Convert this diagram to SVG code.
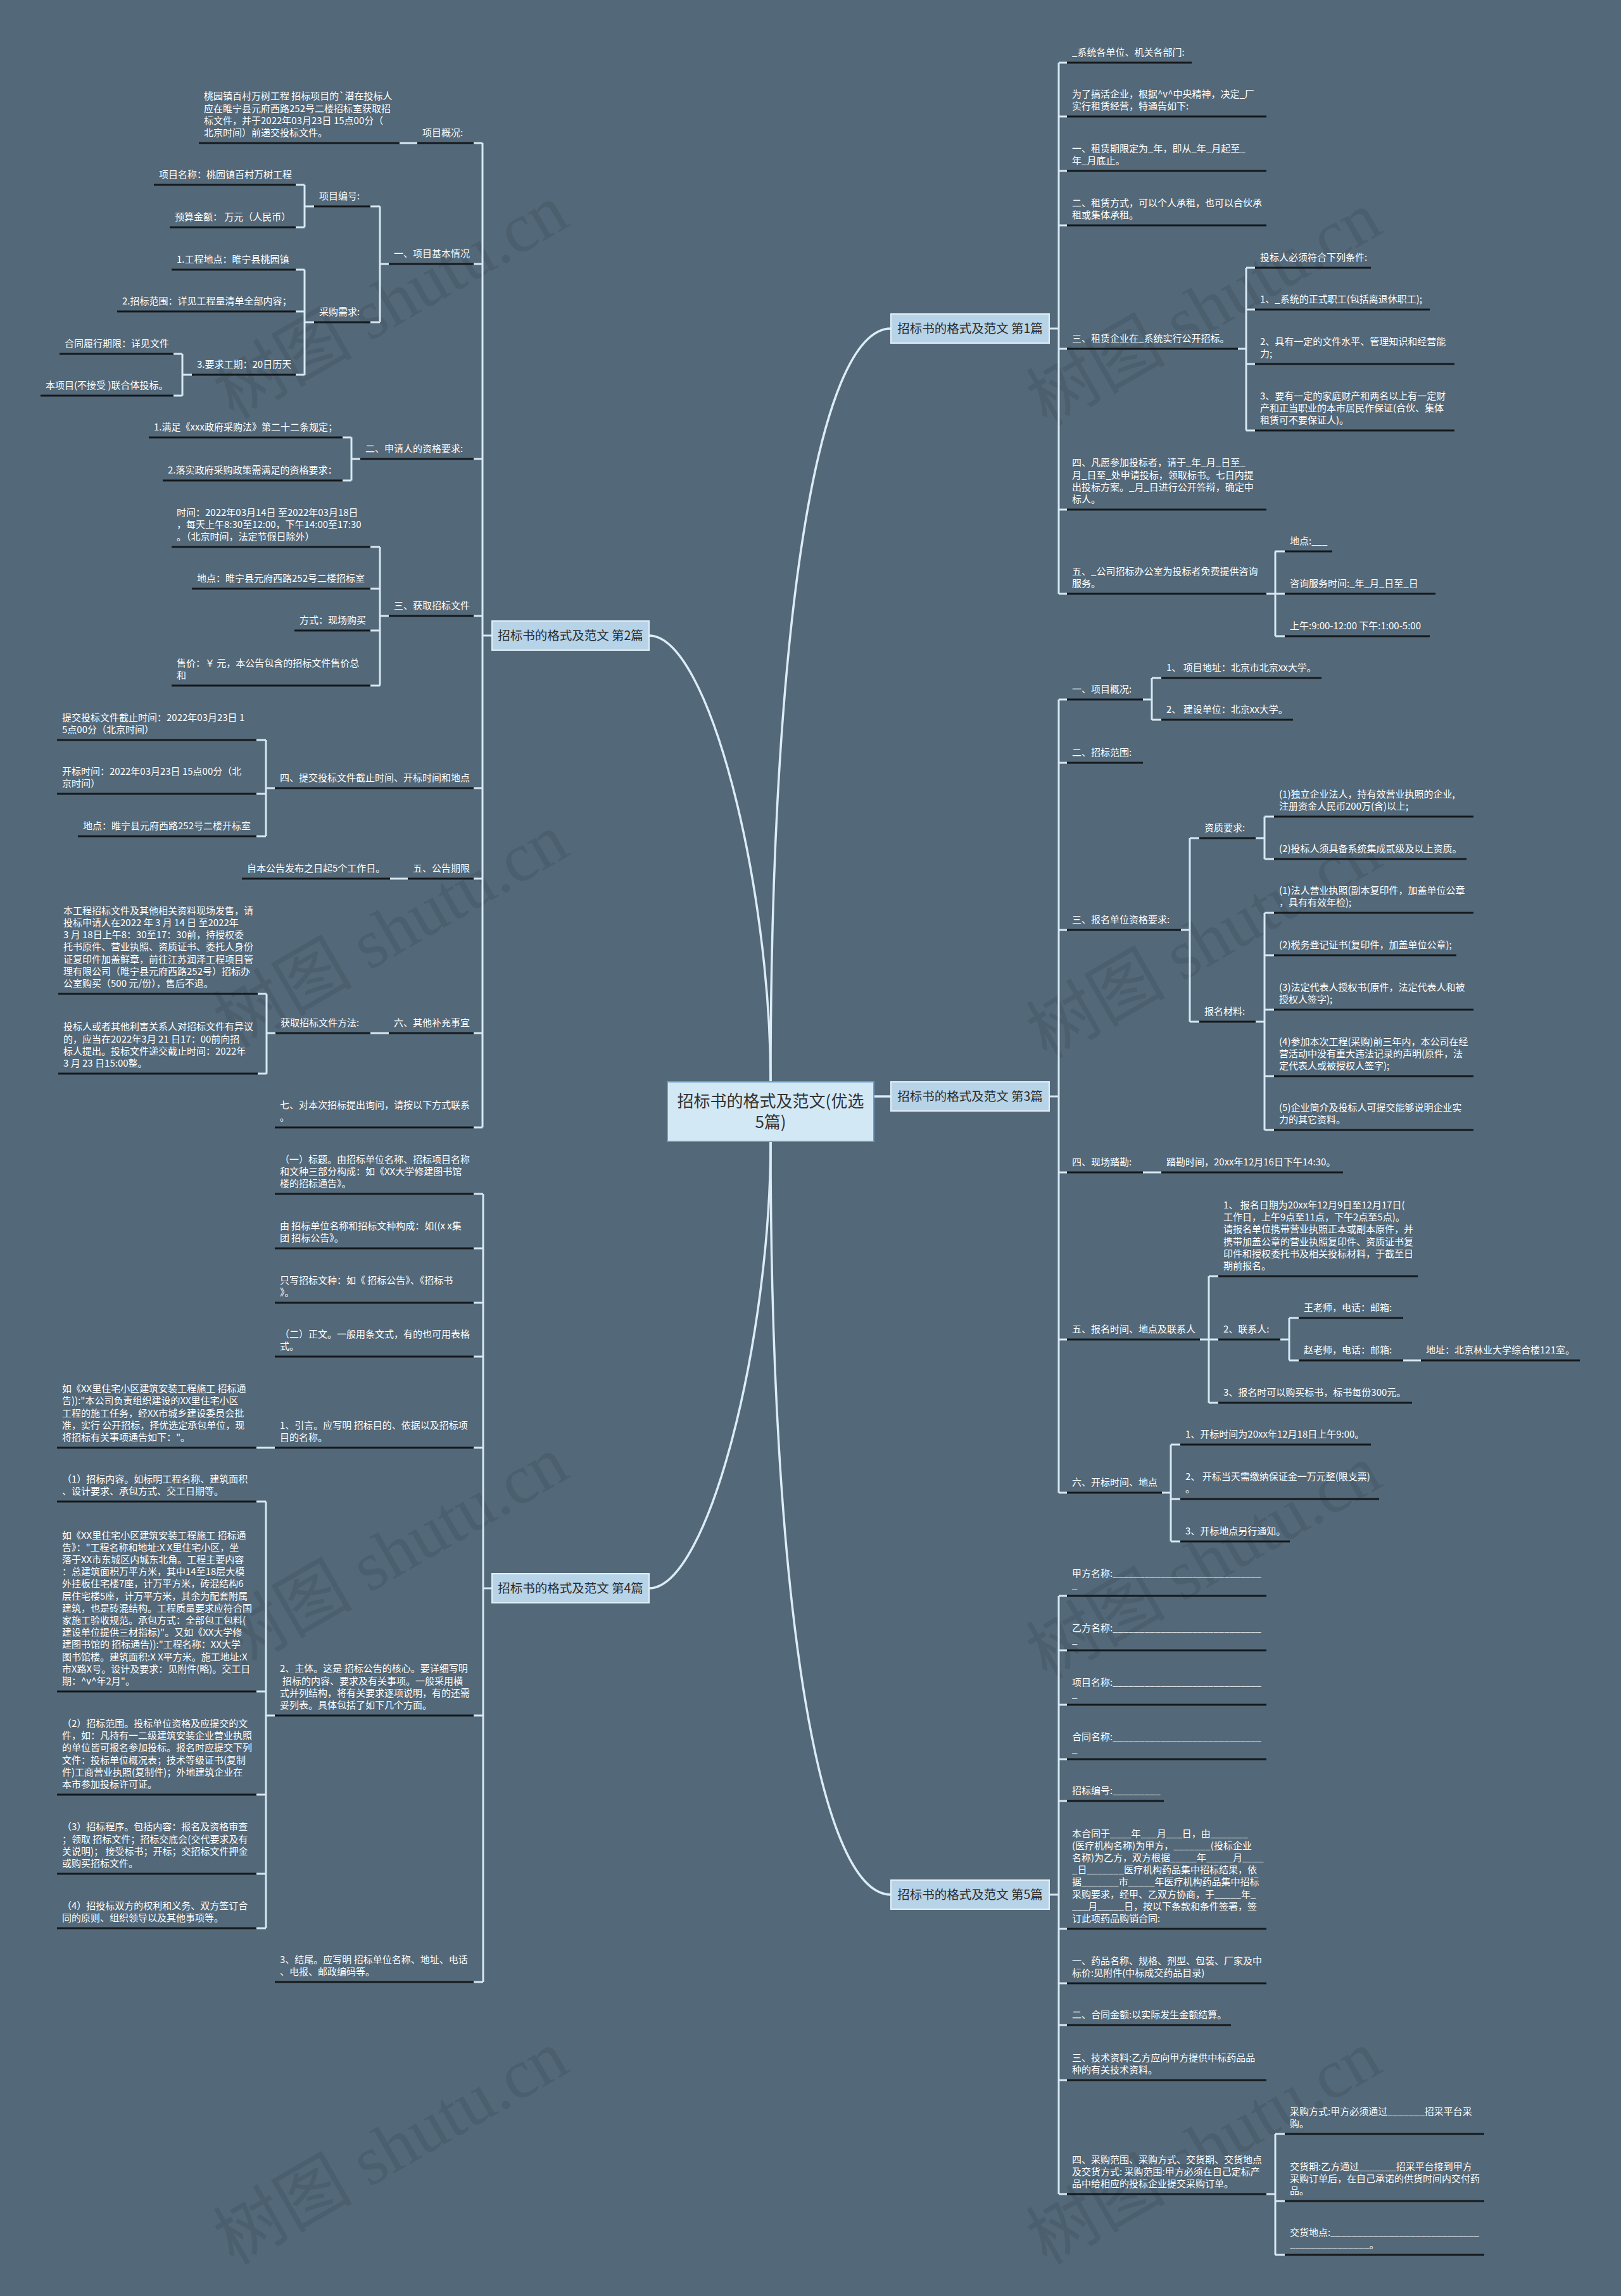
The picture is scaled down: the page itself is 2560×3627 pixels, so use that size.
<svg xmlns="http://www.w3.org/2000/svg" width="2560" height="3627" viewBox="0 0 2560 3627">
<style>
.t{font-family:"Noto Sans CJK SC","Noto Sans",sans-serif;font-size:15px;fill:#ffffff}
.ul{stroke:#15191c;stroke-width:3}
.ln{stroke:#d6e8f3;stroke-width:3;fill:none}
.cv{stroke:#dcecf6;stroke-width:3.5;fill:none}
.bn{fill:#b7d3e7;stroke:#e3f0f8;stroke-width:2}
.bt{font-family:"Noto Sans CJK SC","Noto Sans",sans-serif;font-size:19.5px;fill:#2b2b2b;text-anchor:middle}
.rn{fill:#d3e8f5;stroke:#5f9fd6;stroke-width:2}
.rt{font-family:"Noto Sans CJK SC","Noto Sans",sans-serif;font-size:26px;fill:#333333;text-anchor:middle}
.wm{font-family:"Liberation Serif","Noto Sans CJK SC",serif;font-size:110px;fill:#2f3d47;fill-opacity:0.2;text-anchor:middle}
</style>
<rect x="0" y="0" width="2560" height="3627" fill="#536878"/>
<g id="watermarks">
<text class="wm" transform="translate(636,509) rotate(-30)">树图 shutu.cn</text>
<text class="wm" transform="translate(1920,520) rotate(-30)">树图 shutu.cn</text>
<text class="wm" transform="translate(636,1503) rotate(-30)">树图 shutu.cn</text>
<text class="wm" transform="translate(1920,1520) rotate(-30)">树图 shutu.cn</text>
<text class="wm" transform="translate(636,2486) rotate(-30)">树图 shutu.cn</text>
<text class="wm" transform="translate(1920,2500) rotate(-30)">树图 shutu.cn</text>
<text class="wm" transform="translate(636,3425) rotate(-30)">树图 shutu.cn</text>
<text class="wm" transform="translate(1920,3425) rotate(-30)">树图 shutu.cn</text>
</g>
<g id="connectors">
<path class="cv" d="M1217,1709 C1217,1000 1290,519 1407,519"/>
<path class="cv" d="M1217,1709 C1217,1400 1120,1004 1025,1004"/>
<path class="cv" d="M1380,1732 H1407"/>
<path class="cv" d="M1217,1803 C1217,2112 1120,2509 1025,2509"/>
<path class="cv" d="M1217,1803 C1217,2512 1290,2993 1407,2993"/>
<path class="ln" d="M777,1004 H762 M762,226 V1781 M762,226 H748 M762,417 H748 M762,725 H748 M762,973 H748 M762,1245 H748 M762,1388 H748 M762,1632 H748 M762,1781 H748"/>
<path class="ln" d="M659,226 H631"/>
<path class="ln" d="M614,417 H600 M600,326 V509 M600,326 H585 M600,509 H585"/>
<path class="ln" d="M496,326 H481 M481,292 V359 M481,292 H467 M481,359 H467"/>
<path class="ln" d="M496,509 H481 M481,426 V592 M481,426 H467 M481,492 H467 M481,592 H467"/>
<path class="ln" d="M303,592 H288 M288,559 V625 M288,559 H274 M288,625 H274"/>
<path class="ln" d="M569,725 H555 M555,691 V759 M555,691 H541 M555,759 H541"/>
<path class="ln" d="M614,973 H600 M600,864 V1083 M600,864 H585 M600,930 H585 M600,996 H585 M600,1083 H585"/>
<path class="ln" d="M434,1245 H420 M420,1169 V1321 M420,1169 H405 M420,1254 H405 M420,1321 H405"/>
<path class="ln" d="M644,1388 H616"/>
<path class="ln" d="M614,1632 H585 M435,1632 H421 M421,1570 V1696 M421,1570 H407 M421,1696 H407"/>
<path class="ln" d="M777,2509 H763 M763,1886 V3131 M763,1886 H748 M763,1972 H748 M763,2058 H748 M763,2143 H748 M763,2287 H748 M763,2710 H748 M763,3131 H748"/>
<path class="ln" d="M434,2287 H405"/>
<path class="ln" d="M434,2710 H420 M420,2372 V3046 M420,2372 H405 M420,2672 H405 M420,2835 H405 M420,2960 H405 M420,3046 H405"/>
<path class="ln" d="M1657,519 H1672 M1672,99 V938 M1672,99 H1685 M1672,184 H1685 M1672,270 H1685 M1672,356 H1685 M1672,551 H1685 M1672,805 H1685 M1672,938 H1685"/>
<path class="ln" d="M1955,551 H1968 M1968,423 V680 M1968,423 H1982 M1968,489 H1982 M1968,575 H1982 M1968,680 H1982"/>
<path class="ln" d="M2000,938 H2014 M2014,871 V1005 M2014,871 H2029 M2014,938 H2029 M2014,1005 H2029"/>
<path class="ln" d="M1657,1732 H1672 M1672,1105 V2358 M1672,1105 H1685 M1672,1205 H1685 M1672,1469 H1685 M1672,1852 H1685 M1672,2116 H1685 M1672,2358 H1685"/>
<path class="ln" d="M1805,1105 H1819 M1819,1071 V1137 M1819,1071 H1834 M1819,1137 H1834"/>
<path class="ln" d="M1865,1469 H1879 M1879,1324 V1614 M1879,1324 H1894 M1879,1614 H1894"/>
<path class="ln" d="M1983,1324 H1997 M1997,1290 V1357 M1997,1290 H2012 M1997,1357 H2012"/>
<path class="ln" d="M1983,1614 H1997 M1997,1442 V1785 M1997,1442 H2012 M1997,1509 H2012 M1997,1595 H2012 M1997,1700 H2012 M1997,1785 H2012"/>
<path class="ln" d="M1805,1852 H1834"/>
<path class="ln" d="M1895,2116 H1909 M1909,2016 V2216 M1909,2016 H1924 M1909,2116 H1924 M1909,2216 H1924"/>
<path class="ln" d="M2022,2116 H2036 M2036,2082 V2149 M2036,2082 H2051 M2036,2149 H2051"/>
<path class="ln" d="M2216,2149 H2244"/>
<path class="ln" d="M1835,2358 H1849 M1849,2282 V2435 M1849,2282 H1864 M1849,2368 H1864 M1849,2435 H1864"/>
<path class="ln" d="M1657,2993 H1672 M1672,2521 V3466 M1672,2521 H1685 M1672,2607 H1685 M1672,2693 H1685 M1672,2779 H1685 M1672,2845 H1685 M1672,3047 H1685 M1672,3133 H1685 M1672,3199 H1685 M1672,3286 H1685 M1672,3466 H1685"/>
<path class="ln" d="M2000,3466 H2014 M2014,3371 V3562 M2014,3371 H2029 M2014,3477 H2029 M2014,3562 H2029"/>
</g>

<g id="n-root"><rect class="rn" x="1054" y="1709" width="326" height="94"/><text class="rt" x="1217" y="1749">招标书的格式及范文(优选<tspan x="1217" dy="33">5篇)</tspan></text></g>
<g id="n-b1"><rect class="bn" x="1407" y="496" width="250" height="46"/><text class="bt" x="1532" y="526">招标书的格式及范文 第1篇</text></g>
<g id="n-b2"><rect class="bn" x="777" y="981" width="248" height="46"/><text class="bt" x="901" y="1011">招标书的格式及范文 第2篇</text></g>
<g id="n-b3"><rect class="bn" x="1407" y="1709" width="250" height="46"/><text class="bt" x="1532" y="1739">招标书的格式及范文 第3篇</text></g>
<g id="n-b4"><rect class="bn" x="777" y="2486" width="248" height="46"/><text class="bt" x="901" y="2516">招标书的格式及范文 第4篇</text></g>
<g id="n-b5"><rect class="bn" x="1407" y="2970" width="250" height="46"/><text class="bt" x="1532" y="3000">招标书的格式及范文 第5篇</text></g>

<g id="a1"><line class="ul" x1="659" y1="226" x2="748" y2="226"/><text class="t" x="667" y="215">项目概况:</text></g>
<g id="a1c"><line class="ul" x1="314" y1="226" x2="631" y2="226"/><text class="t" x="322" y="157.4">桃园镇百村万树工程 招标项目的`潜在投标人<tspan x="322" dy="19.2">应在睢宁县元府西路252号二楼招标室获取招</tspan><tspan x="322" dy="19.2">标文件，并于2022年03月23日 15点00分（</tspan><tspan x="322" dy="19.2">北京时间）前递交投标文件。</tspan></text></g>
<g id="a2"><line class="ul" x1="614" y1="417" x2="748" y2="417"/><text class="t" x="622" y="406">一、项目基本情况</text></g>
<g id="a2a"><line class="ul" x1="496" y1="326" x2="585" y2="326"/><text class="t" x="504" y="315">项目编号:</text></g>
<g id="a2a1"><line class="ul" x1="243" y1="292" x2="467" y2="292"/><text class="t" x="251" y="281">项目名称：桃园镇百村万树工程</text></g>
<g id="a2a2"><line class="ul" x1="268" y1="359" x2="467" y2="359"/><text class="t" x="276" y="348">预算金额：  万元（人民币）</text></g>
<g id="a2b"><line class="ul" x1="496" y1="509" x2="585" y2="509"/><text class="t" x="504" y="498">采购需求:</text></g>
<g id="a2b1"><line class="ul" x1="271" y1="426" x2="467" y2="426"/><text class="t" x="279" y="415">1.工程地点：睢宁县桃园镇</text></g>
<g id="a2b2"><line class="ul" x1="185" y1="492" x2="467" y2="492"/><text class="t" x="193" y="481">2.招标范围：详见工程量清单全部内容；</text></g>
<g id="a2b3"><line class="ul" x1="303" y1="592" x2="467" y2="592"/><text class="t" x="311" y="581">3.要求工期：20日历天</text></g>
<g id="a2b3a"><line class="ul" x1="94" y1="559" x2="274" y2="559"/><text class="t" x="102" y="548">合同履行期限：详见文件</text></g>
<g id="a2b3b"><line class="ul" x1="64" y1="625" x2="274" y2="625"/><text class="t" x="72" y="614">本项目(不接受 )联合体投标。</text></g>
<g id="a3"><line class="ul" x1="569" y1="725" x2="748" y2="725"/><text class="t" x="577" y="714">二、申请人的资格要求:</text></g>
<g id="a3a"><line class="ul" x1="235" y1="691" x2="541" y2="691"/><text class="t" x="243" y="680">1.满足《xxx政府采购法》第二十二条规定；</text></g>
<g id="a3b"><line class="ul" x1="257" y1="759" x2="541" y2="759"/><text class="t" x="265" y="748">2.落实政府采购政策需满足的资格要求：</text></g>
<g id="a4"><line class="ul" x1="614" y1="973" x2="748" y2="973"/><text class="t" x="622" y="962">三、获取招标文件</text></g>
<g id="a4a"><line class="ul" x1="271" y1="864" x2="585" y2="864"/><text class="t" x="279" y="814.6">时间：2022年03月14日 至2022年03月18日<tspan x="279" dy="19.2">，每天上午8:30至12:00，下午14:00至17:30</tspan><tspan x="279" dy="19.2">。（北京时间，法定节假日除外）</tspan></text></g>
<g id="a4b"><line class="ul" x1="303" y1="930" x2="585" y2="930"/><text class="t" x="311" y="919">地点：睢宁县元府西路252号二楼招标室</text></g>
<g id="a4c"><line class="ul" x1="465" y1="996" x2="585" y2="996"/><text class="t" x="473" y="985">方式：现场购买</text></g>
<g id="a4d"><line class="ul" x1="271" y1="1083" x2="585" y2="1083"/><text class="t" x="279" y="1052.8">售价：￥ 元，本公告包含的招标文件售价总<tspan x="279" dy="19.2">和</tspan></text></g>
<g id="a5"><line class="ul" x1="434" y1="1245" x2="748" y2="1245"/><text class="t" x="442" y="1234">四、提交投标文件截止时间、开标时间和地点</text></g>
<g id="a5a"><line class="ul" x1="90" y1="1169" x2="405" y2="1169"/><text class="t" x="98" y="1138.8">提交投标文件截止时间：2022年03月23日 1<tspan x="98" dy="19.2">5点00分（北京时间）</tspan></text></g>
<g id="a5b"><line class="ul" x1="90" y1="1254" x2="405" y2="1254"/><text class="t" x="98" y="1223.8">开标时间：2022年03月23日 15点00分（北<tspan x="98" dy="19.2">京时间）</tspan></text></g>
<g id="a5c"><line class="ul" x1="123" y1="1321" x2="405" y2="1321"/><text class="t" x="131" y="1310">地点：睢宁县元府西路252号二楼开标室</text></g>
<g id="a6"><line class="ul" x1="644" y1="1388" x2="748" y2="1388"/><text class="t" x="652" y="1377">五、公告期限</text></g>
<g id="a6a"><line class="ul" x1="382" y1="1388" x2="616" y2="1388"/><text class="t" x="390" y="1377">自本公告发布之日起5个工作日。</text></g>
<g id="a7"><line class="ul" x1="614" y1="1632" x2="748" y2="1632"/><text class="t" x="622" y="1621">六、其他补充事宜</text></g>
<g id="a7a"><line class="ul" x1="435" y1="1632" x2="585" y2="1632"/><text class="t" x="443" y="1621">获取招标文件方法:</text></g>
<g id="a7a1"><line class="ul" x1="92" y1="1570" x2="407" y2="1570"/><text class="t" x="100" y="1443.8">本工程招标文件及其他相关资料现场发售，请<tspan x="100" dy="19.2">投标申请人在2022 年 3 月 14 日 至2022年</tspan><tspan x="100" dy="19.2">3 月 18日上午8：30至17：30前，持授权委</tspan><tspan x="100" dy="19.2">托书原件、营业执照、资质证书、委托人身份</tspan><tspan x="100" dy="19.2">证复印件加盖鲜章，前往江苏润泽工程项目管</tspan><tspan x="100" dy="19.2">理有限公司（睢宁县元府西路252号）招标办</tspan><tspan x="100" dy="19.2">公室购买（500 元/份），售后不退。</tspan></text></g>
<g id="a7a2"><line class="ul" x1="92" y1="1696" x2="407" y2="1696"/><text class="t" x="100" y="1627.4">投标人或者其他利害关系人对招标文件有异议<tspan x="100" dy="19.2">的，应当在2022年3月 21 日17：00前向招</tspan><tspan x="100" dy="19.2">标人提出。投标文件递交截止时间：2022年</tspan><tspan x="100" dy="19.2">3 月 23 日15:00整。</tspan></text></g>
<g id="a8"><line class="ul" x1="434" y1="1781" x2="748" y2="1781"/><text class="t" x="442" y="1750.8">七、对本次招标提出询问，请按以下方式联系<tspan x="442" dy="19.2">。</tspan></text></g>

<g id="b1"><line class="ul" x1="434" y1="1886" x2="748" y2="1886"/><text class="t" x="442" y="1836.6">（一）标题。由招标单位名称、招标项目名称<tspan x="442" dy="19.2">和文种三部分构成：如《XX大学修建图书馆</tspan><tspan x="442" dy="19.2">楼的招标通告》。</tspan></text></g>
<g id="b2"><line class="ul" x1="434" y1="1972" x2="748" y2="1972"/><text class="t" x="442" y="1941.8">由 招标单位名称和招标文种构成：如((x x集<tspan x="442" dy="19.2">团 招标公告》。</tspan></text></g>
<g id="b3"><line class="ul" x1="434" y1="2058" x2="748" y2="2058"/><text class="t" x="442" y="2027.8">只写招标文种：如《 招标公告》、《招标书<tspan x="442" dy="19.2">》。</tspan></text></g>
<g id="b4"><line class="ul" x1="434" y1="2143" x2="748" y2="2143"/><text class="t" x="442" y="2112.8">（二）正文。一般用条文式，有的也可用表格<tspan x="442" dy="19.2">式。</tspan></text></g>
<g id="b5"><line class="ul" x1="434" y1="2287" x2="748" y2="2287"/><text class="t" x="442" y="2256.8">1、引言。应写明 招标目的、依据以及招标项<tspan x="442" dy="19.2">目的名称。</tspan></text></g>
<g id="b5a"><line class="ul" x1="90" y1="2287" x2="405" y2="2287"/><text class="t" x="98" y="2199.2">如《XX里住宅小区建筑安装工程施工 招标通<tspan x="98" dy="19.2">告)):"本公司负责组织建设的XX里住宅小区</tspan><tspan x="98" dy="19.2">工程的施工任务，经XX市城乡建设委员会批</tspan><tspan x="98" dy="19.2">准，实行 公开招标，择优选定承包单位，现</tspan><tspan x="98" dy="19.2">将招标有关事项通告如下："。</tspan></text></g>
<g id="b6"><line class="ul" x1="434" y1="2710" x2="748" y2="2710"/><text class="t" x="442" y="2641.4">2、主体。这是 招标公告的核心。要详细写明<tspan x="446" dy="19.2">招标的内容、要求及有关事项。一般采用横</tspan><tspan x="442" dy="19.2">式并列结构，将有关要求逐项说明，有的还需</tspan><tspan x="442" dy="19.2">妥列表。具体包括了如下几个方面。</tspan></text></g>
<g id="b6a"><line class="ul" x1="90" y1="2372" x2="405" y2="2372"/><text class="t" x="98" y="2341.8">（1）招标内容。如标明工程名称、建筑面积<tspan x="98" dy="19.2">、设计要求、承包方式、交工日期等。</tspan></text></g>
<g id="b6b"><line class="ul" x1="90" y1="2672" x2="405" y2="2672"/><text class="t" x="98" y="2430.6">如《XX里住宅小区建筑安装工程施工 招标通<tspan x="98" dy="19.2">告》："工程名称和地址:X X里住宅小区，坐</tspan><tspan x="98" dy="19.2">落于XX市东城区内城东北角。工程主要内容</tspan><tspan x="98" dy="19.2">：总建筑面积万平方米，其中14至18层大模</tspan><tspan x="98" dy="19.2">外挂板住宅楼7座，计万平方米，砖混结构6</tspan><tspan x="98" dy="19.2">层住宅楼5座，计万平方米，其余为配套附属</tspan><tspan x="98" dy="19.2">建筑，也是砖混结构。工程质量要求应符合国</tspan><tspan x="98" dy="19.2">家施工验收规范。承包方式：全部包工包料(</tspan><tspan x="98" dy="19.2">建设单位提供三材指标)"。又如《XX大学修</tspan><tspan x="98" dy="19.2">建图书馆的 招标通告)):"工程名称：XX大学</tspan><tspan x="98" dy="19.2">图书馆楼。建筑面积:X X平方米。施工地址:X</tspan><tspan x="98" dy="19.2">市X路X号。设计及要求：见附件(略)。交工日</tspan><tspan x="98" dy="19.2">期：^v^年2月"。</tspan></text></g>
<g id="b6c"><line class="ul" x1="90" y1="2835" x2="405" y2="2835"/><text class="t" x="98" y="2728">（2）招标范围。投标单位资格及应提交的文<tspan x="98" dy="19.2">件，如：凡持有一二级建筑安装企业营业执照</tspan><tspan x="98" dy="19.2">的单位皆可报名参加投标。报名时应提交下列</tspan><tspan x="98" dy="19.2">文件：投标单位概况表；技术等级证书(复制</tspan><tspan x="98" dy="19.2">件)工商营业执照(复制件)；外地建筑企业在</tspan><tspan x="98" dy="19.2">本市参加投标许可证。</tspan></text></g>
<g id="b6d"><line class="ul" x1="90" y1="2960" x2="405" y2="2960"/><text class="t" x="98" y="2891.4">（3）招标程序。包括内容：报名及资格审查<tspan x="98" dy="19.2">；领取 招标文件；招标交底会(交代要求及有</tspan><tspan x="98" dy="19.2">关说明)； 接受标书；开标；交招标文件押金</tspan><tspan x="98" dy="19.2">或购买招标文件。</tspan></text></g>
<g id="b6e"><line class="ul" x1="90" y1="3046" x2="405" y2="3046"/><text class="t" x="98" y="3015.8">（4）招投标双方的权利和义务、双方签订合<tspan x="98" dy="19.2">同的原则、组织领导以及其他事项等。</tspan></text></g>
<g id="b7"><line class="ul" x1="434" y1="3131" x2="748" y2="3131"/><text class="t" x="442" y="3100.8">3、结尾。应写明 招标单位名称、地址、电话<tspan x="442" dy="19.2">、电报、邮政编码等。</tspan></text></g>

<g id="r1"><line class="ul" x1="1685" y1="99" x2="1882" y2="99"/><text class="t" x="1693" y="88">_系统各单位、机关各部门:</text></g>
<g id="r2"><line class="ul" x1="1685" y1="184" x2="2000" y2="184"/><text class="t" x="1693" y="153.8">为了搞活企业，根据^v^中央精神，决定_厂<tspan x="1693" dy="19.2">实行租赁经营，特通告如下:</tspan></text></g>
<g id="r3"><line class="ul" x1="1685" y1="270" x2="2000" y2="270"/><text class="t" x="1693" y="239.8">一、租赁期限定为_年，即从_年_月起至_<tspan x="1693" dy="19.2">年_月底止。</tspan></text></g>
<g id="r4"><line class="ul" x1="1685" y1="356" x2="2000" y2="356"/><text class="t" x="1693" y="325.8">二、租赁方式，可以个人承租，也可以合伙承<tspan x="1693" dy="19.2">租或集体承租。</tspan></text></g>
<g id="r5"><line class="ul" x1="1685" y1="551" x2="1955" y2="551"/><text class="t" x="1693" y="540">三、租赁企业在_系统实行公开招标。</text></g>
<g id="r5a"><line class="ul" x1="1982" y1="423" x2="2165" y2="423"/><text class="t" x="1990" y="412">投标人必须符合下列条件:</text></g>
<g id="r5b"><line class="ul" x1="1982" y1="489" x2="2258" y2="489"/><text class="t" x="1990" y="478">1、_系统的正式职工(包括离退休职工);</text></g>
<g id="r5c"><line class="ul" x1="1982" y1="575" x2="2297" y2="575"/><text class="t" x="1990" y="544.8">2、具有一定的文件水平、管理知识和经营能<tspan x="1990" dy="19.2">力;</tspan></text></g>
<g id="r5d"><line class="ul" x1="1982" y1="680" x2="2297" y2="680"/><text class="t" x="1990" y="630.6">3、要有一定的家庭财产和两名以上有一定财<tspan x="1990" dy="19.2">产和正当职业的本市居民作保证(合伙、集体</tspan><tspan x="1990" dy="19.2">租赁可不要保证人)。</tspan></text></g>
<g id="r6"><line class="ul" x1="1685" y1="805" x2="2000" y2="805"/><text class="t" x="1693" y="736.4">四、凡愿参加投标者，请于_年_月_日至_<tspan x="1693" dy="19.2">月_日至_处申请投标，领取标书。七日内提</tspan><tspan x="1693" dy="19.2">出投标方案。_月_日进行公开答辩，确定中</tspan><tspan x="1693" dy="19.2">标人。</tspan></text></g>
<g id="r7"><line class="ul" x1="1685" y1="938" x2="2000" y2="938"/><text class="t" x="1693" y="907.8">五、_公司招标办公室为投标者免费提供咨询<tspan x="1693" dy="19.2">服务。</tspan></text></g>
<g id="r7a"><line class="ul" x1="2029" y1="871" x2="2104" y2="871"/><text class="t" x="2037" y="860">地点:___</text></g>
<g id="r7b"><line class="ul" x1="2029" y1="938" x2="2267" y2="938"/><text class="t" x="2037" y="927">咨询服务时间:_年_月_日至_日</text></g>
<g id="r7c"><line class="ul" x1="2029" y1="1005" x2="2258" y2="1005"/><text class="t" x="2037" y="994">上午:9:00-12:00 下午:1:00-5:00</text></g>

<g id="s1"><line class="ul" x1="1685" y1="1105" x2="1805" y2="1105"/><text class="t" x="1693" y="1094">一、项目概况:</text></g>
<g id="s1a"><line class="ul" x1="1834" y1="1071" x2="2087" y2="1071"/><text class="t" x="1842" y="1060">1、 项目地址：北京市北京xx大学。</text></g>
<g id="s1b"><line class="ul" x1="1834" y1="1137" x2="2042" y2="1137"/><text class="t" x="1842" y="1126">2、 建设单位：北京xx大学。</text></g>
<g id="s2"><line class="ul" x1="1685" y1="1205" x2="1805" y2="1205"/><text class="t" x="1693" y="1194">二、招标范围:</text></g>
<g id="s3"><line class="ul" x1="1685" y1="1469" x2="1865" y2="1469"/><text class="t" x="1693" y="1458">三、报名单位资格要求:</text></g>
<g id="s3a"><line class="ul" x1="1894" y1="1324" x2="1983" y2="1324"/><text class="t" x="1902" y="1313">资质要求:</text></g>
<g id="s3a1"><line class="ul" x1="2012" y1="1290" x2="2327" y2="1290"/><text class="t" x="2020" y="1259.8">(1)独立企业法人，持有效营业执照的企业,<tspan x="2020" dy="19.2">注册资金人民币200万(含)以上;</tspan></text></g>
<g id="s3a2"><line class="ul" x1="2012" y1="1357" x2="2316" y2="1357"/><text class="t" x="2020" y="1346">(2)投标人须具备系统集成贰级及以上资质。</text></g>
<g id="s3b"><line class="ul" x1="1894" y1="1614" x2="1983" y2="1614"/><text class="t" x="1902" y="1603">报名材料:</text></g>
<g id="s3b1"><line class="ul" x1="2012" y1="1442" x2="2327" y2="1442"/><text class="t" x="2020" y="1411.8">(1)法人营业执照(副本复印件，加盖单位公章<tspan x="2020" dy="19.2">，具有有效年检);</tspan></text></g>
<g id="s3b2"><line class="ul" x1="2012" y1="1509" x2="2300" y2="1509"/><text class="t" x="2020" y="1498">(2)税务登记证书(复印件，加盖单位公章);</text></g>
<g id="s3b3"><line class="ul" x1="2012" y1="1595" x2="2327" y2="1595"/><text class="t" x="2020" y="1564.8">(3)法定代表人授权书(原件，法定代表人和被<tspan x="2020" dy="19.2">授权人签字);</tspan></text></g>
<g id="s3b4"><line class="ul" x1="2012" y1="1700" x2="2327" y2="1700"/><text class="t" x="2020" y="1650.6">(4)参加本次工程(采购)前三年内，本公司在经<tspan x="2020" dy="19.2">营活动中没有重大违法记录的声明(原件，法</tspan><tspan x="2020" dy="19.2">定代表人或被授权人签字);</tspan></text></g>
<g id="s3b5"><line class="ul" x1="2012" y1="1785" x2="2327" y2="1785"/><text class="t" x="2020" y="1754.8">(5)企业简介及投标人可提交能够说明企业实<tspan x="2020" dy="19.2">力的其它资料。</tspan></text></g>
<g id="s4"><line class="ul" x1="1685" y1="1852" x2="1805" y2="1852"/><text class="t" x="1693" y="1841">四、现场踏勘:</text></g>
<g id="s4a"><line class="ul" x1="1834" y1="1852" x2="2121" y2="1852"/><text class="t" x="1842" y="1841">踏勘时间，20xx年12月16日下午14:30。</text></g>
<g id="s5"><line class="ul" x1="1685" y1="2116" x2="1895" y2="2116"/><text class="t" x="1693" y="2105">五、报名时间、地点及联系人</text></g>
<g id="s5a"><line class="ul" x1="1924" y1="2016" x2="2239" y2="2016"/><text class="t" x="1932" y="1909">1、 报名日期为20xx年12月9日至12月17日(<tspan x="1932" dy="19.2">工作日，上午9点至11点，下午2点至5点)。</tspan><tspan x="1932" dy="19.2">请报名单位携带营业执照正本或副本原件，并</tspan><tspan x="1932" dy="19.2">携带加盖公章的营业执照复印件、资质证书复</tspan><tspan x="1932" dy="19.2">印件和授权委托书及相关投标材料，于截至日</tspan><tspan x="1932" dy="19.2">期前报名。</tspan></text></g>
<g id="s5b"><line class="ul" x1="1924" y1="2116" x2="2022" y2="2116"/><text class="t" x="1932" y="2105">2、联系人:</text></g>
<g id="s5b1"><line class="ul" x1="2051" y1="2082" x2="2216" y2="2082"/><text class="t" x="2059" y="2071">王老师，电话：邮箱:</text></g>
<g id="s5b2"><line class="ul" x1="2051" y1="2149" x2="2216" y2="2149"/><text class="t" x="2059" y="2138">赵老师，电话：邮箱:</text></g>
<g id="s5b2a"><line class="ul" x1="2244" y1="2149" x2="2495" y2="2149"/><text class="t" x="2252" y="2138">地址：北京林业大学综合楼121室。</text></g>
<g id="s5c"><line class="ul" x1="1924" y1="2216" x2="2230" y2="2216"/><text class="t" x="1932" y="2205">3、报名时可以购买标书，标书每份300元。</text></g>
<g id="s6"><line class="ul" x1="1685" y1="2358" x2="1835" y2="2358"/><text class="t" x="1693" y="2347">六、开标时间、地点</text></g>
<g id="s6a"><line class="ul" x1="1864" y1="2282" x2="2165" y2="2282"/><text class="t" x="1872" y="2271">1、开标时间为20xx年12月18日上午9:00。</text></g>
<g id="s6b"><line class="ul" x1="1864" y1="2368" x2="2178" y2="2368"/><text class="t" x="1872" y="2337.8">2、 开标当天需缴纳保证金一万元整(限支票)<tspan x="1872" dy="19.2">。</tspan></text></g>
<g id="s6c"><line class="ul" x1="1864" y1="2435" x2="2037" y2="2435"/><text class="t" x="1872" y="2424">3、开标地点另行通知。</text></g>

<g id="t1"><line class="ul" x1="1685" y1="2521" x2="2000" y2="2521"/><text class="t" x="1693" y="2490.8">甲方名称:____________________________<tspan x="1693" dy="19.2">_</tspan></text></g>
<g id="t2"><line class="ul" x1="1685" y1="2607" x2="2000" y2="2607"/><text class="t" x="1693" y="2576.8">乙方名称:____________________________<tspan x="1693" dy="19.2">_</tspan></text></g>
<g id="t3"><line class="ul" x1="1685" y1="2693" x2="2000" y2="2693"/><text class="t" x="1693" y="2662.8">项目名称:____________________________<tspan x="1693" dy="19.2">_</tspan></text></g>
<g id="t4"><line class="ul" x1="1685" y1="2779" x2="2000" y2="2779"/><text class="t" x="1693" y="2748.8">合同名称:____________________________<tspan x="1693" dy="19.2">_</tspan></text></g>
<g id="t5"><line class="ul" x1="1685" y1="2845" x2="1838" y2="2845"/><text class="t" x="1693" y="2834">招标编号:_________</text></g>
<g id="t6"><line class="ul" x1="1685" y1="3047" x2="2000" y2="3047"/><text class="t" x="1693" y="2901.6">本合同于____年___月___日，由_______<tspan x="1693" dy="19.2">(医疗机构名称)为甲方，_______(投标企业</tspan><tspan x="1693" dy="19.2">名称)为乙方，双方根据_____年_____月____</tspan><tspan x="1693" dy="19.2">_日_______医疗机构药品集中招标结果，依</tspan><tspan x="1693" dy="19.2">据_______市_____年医疗机构药品集中招标</tspan><tspan x="1693" dy="19.2">采购要求，经甲、乙双方协商，于_____年_</tspan><tspan x="1693" dy="19.2">___月_____日，按以下条款和条件签署，签</tspan><tspan x="1693" dy="19.2">订此项药品购销合同:</tspan></text></g>
<g id="t7"><line class="ul" x1="1685" y1="3133" x2="2000" y2="3133"/><text class="t" x="1693" y="3102.8">一、药品名称、规格、剂型、包装、厂家及中<tspan x="1693" dy="19.2">标价:见附件(中标成交药品目录)</tspan></text></g>
<g id="t8"><line class="ul" x1="1685" y1="3199" x2="1944" y2="3199"/><text class="t" x="1693" y="3188">二、合同金额:以实际发生金额结算。</text></g>
<g id="t9"><line class="ul" x1="1685" y1="3286" x2="2000" y2="3286"/><text class="t" x="1693" y="3255.8">三、技术资料:乙方应向甲方提供中标药品品<tspan x="1693" dy="19.2">种的有关技术资料。</tspan></text></g>
<g id="t10"><line class="ul" x1="1685" y1="3466" x2="2000" y2="3466"/><text class="t" x="1693" y="3416.6">四、采购范围、采购方式、交货期、交货地点<tspan x="1693" dy="19.2">及交货方式: 采购范围:甲方必须在自己定标产</tspan><tspan x="1693" dy="19.2">品中给相应的投标企业提交采购订单。</tspan></text></g>
<g id="t10a"><line class="ul" x1="2029" y1="3371" x2="2344" y2="3371"/><text class="t" x="2037" y="3340.8">采购方式:甲方必须通过_______招采平台采<tspan x="2037" dy="19.2">购。</tspan></text></g>
<g id="t10b"><line class="ul" x1="2029" y1="3477" x2="2344" y2="3477"/><text class="t" x="2037" y="3427.6">交货期:乙方通过_______招采平台接到甲方<tspan x="2037" dy="19.2">采购订单后，在自己承诺的供货时间内交付药</tspan><tspan x="2037" dy="19.2">品。</tspan></text></g>
<g id="t10c"><line class="ul" x1="2029" y1="3562" x2="2344" y2="3562"/><text class="t" x="2037" y="3531.8">交货地点:____________________________<tspan x="2037" dy="19.2">_______________。</tspan></text></g>
</svg>
